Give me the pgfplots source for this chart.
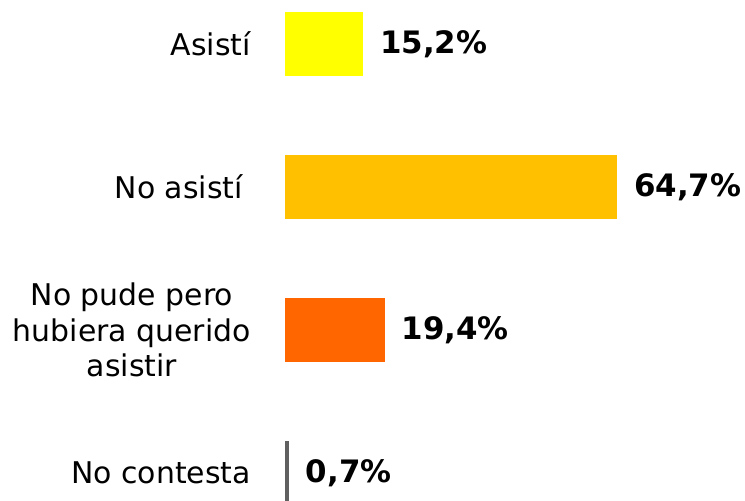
\documentclass[border=0pt]{standalone}
\usepackage{fontspec}
\setmainfont{DejaVu Sans}
\usepackage{pgfplots}
\pgfplotsset{compat=1.18}
\definecolor{cyel}{HTML}{FFFF00}
\definecolor{camber}{HTML}{FFC000}
\definecolor{corange}{HTML}{FF6600}
\definecolor{cgray}{HTML}{606060}

\begin{document}
\begin{tikzpicture}
\useasboundingbox (-285bp,0) rectangle (460bp,501bp);
\begin{axis}[
  xbar, bar width=64bp, bar shift=0pt,
  x=5.13bp, y=143bp, y dir=reverse,
  xmin=0, xmax=89.6, ymin=-0.307, ymax=3.196,
  axis line style={draw=none},
  xtick=\empty, ytick={0,1,2,3},
  yticklabels={Asistí, No asistí\hspace{8bp}, {No pude pero\\hubiera querido\\asistir}, No contesta},
  yticklabel style={align=center, font=\fontsize{30}{36}\selectfont, inner sep=0pt, xshift=-34bp},
  major tick length=0pt,
  point meta=x,
  nodes near coords={\pgfmathprintnumber[fixed,fixed zerofill,precision=1,use comma,assume math mode=true]{\pgfplotspointmeta}\%},
  nodes near coords style={font=\fontsize{31}{36}\selectfont\bfseries, anchor=west, inner sep=0pt, xshift=17bp},
]
\addplot[fill=cyel, draw=none] coordinates {(15.2,0)};
\addplot[fill=camber, draw=none] coordinates {(64.7,1)};
\addplot[fill=corange, draw=none] coordinates {(19.4,2)};
\addplot[fill=cgray, draw=none] coordinates {(0.7,3)};
\end{axis}
\end{tikzpicture}
\end{document}
